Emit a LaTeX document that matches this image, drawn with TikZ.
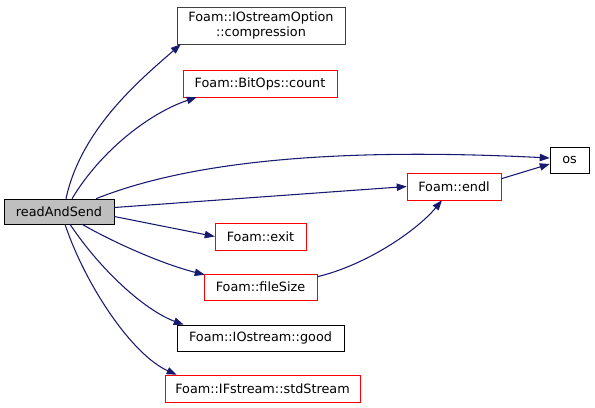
\documentclass[tikz,border=0pt]{standalone}
\usepackage{fontspec}
\setmainfont{DejaVu Sans}
\usepackage{xcolor}
\usetikzlibrary{arrows.meta,positioning,calc}

\definecolor{edgeblue}{HTML}{191970}
\definecolor{rootgray}{HTML}{BFBFBF}

\begin{document}
\begin{tikzpicture}[x=0.75pt,y=-0.75pt,
  fn/.style={draw=black, inner sep=0pt, font=\fontsize{9.6pt}{11.5pt}\selectfont, align=center},
  fnred/.style={fn, draw=red},
  call/.style={draw=edgeblue, line width=0.8pt, -{Triangle[length=7.5pt,width=5.5pt]}}]
\useasboundingbox (0,0) rectangle (595,407);

% Functions
\node (rs) [fn, fill=rootgray, minimum width=82.5pt, minimum height=18.75pt] at (59,211.5) {readAndSend};
\node (comp) [fn, draw=black!75, minimum width=126pt, minimum height=27.75pt] at (261,25.5) {Foam::IOstreamOption\\::compression};
\node (count) [fnred, minimum width=115.5pt, minimum height=20.25pt] at (260,83.5) {Foam::BitOps::count};
\node (os) [fn, minimum width=29.25pt, minimum height=19.5pt] at (569.5,160) {os};
\node (endl) [fnred, minimum width=70.5pt, minimum height=20.25pt] at (454,186.5) {Foam::endl};
\node (exit) [fnred, minimum width=68.25pt, minimum height=20.25pt] at (260.5,236.5) {Foam::exit};
\node (fs) [fnred, minimum width=84.75pt, minimum height=19.5pt] at (260.5,287) {Foam::fileSize};
\node (good) [fn, minimum width=125.25pt, minimum height=19.5pt] at (260.5,338) {Foam::IOstream::good};
\node (std) [fnred, minimum width=146.25pt, minimum height=20.25pt] at (262.5,388.5) {Foam::IFstream::stdStream};

% Calls
\draw[call] ($(rs.north)+(7,0)$) .. controls +(15,-70) and +(-40,35) .. ($(comp.south west)+(4,0)$);
\draw[call] ($(rs.north)+(13,0)$) .. controls +(30,-50) and +(-45,15) .. ($(count.south west)+(14,0)$);
\draw[call] ($(rs.north)+(37,0)$) .. controls +(100,-40) and +(-200,-10) .. ($(os.west)+(0,-2)$);
\draw[call] ($(rs.east)+(0,-4)$) -- (endl.west);
\draw[call] ($(rs.east)+(0,5)$) -- (exit.west);
\draw[call] ($(rs.south)+(23,0)$) .. controls +(35,20) and +(-40,-10) .. ($(fs.north west)+(1,1)$);
\draw[call] ($(rs.south)+(11,0)$) .. controls +(30,45) and +(-40,-15) .. ($(good.north west)+(7,0)$);
\draw[call] ($(rs.south)+(6,0)$) .. controls +(20,60) and +(-45,-20) .. ($(std.north west)+(12,0)$);
\draw[call] ($(endl.north east)+(0,6)$) -- ($(os.west)+(0,4)$);
\draw[call] ($(fs.north east)+(0,3)$) .. controls +(50,-12) and +(-25,30) .. ($(endl.south)+(-12,0)$);

\end{tikzpicture}
\end{document}
